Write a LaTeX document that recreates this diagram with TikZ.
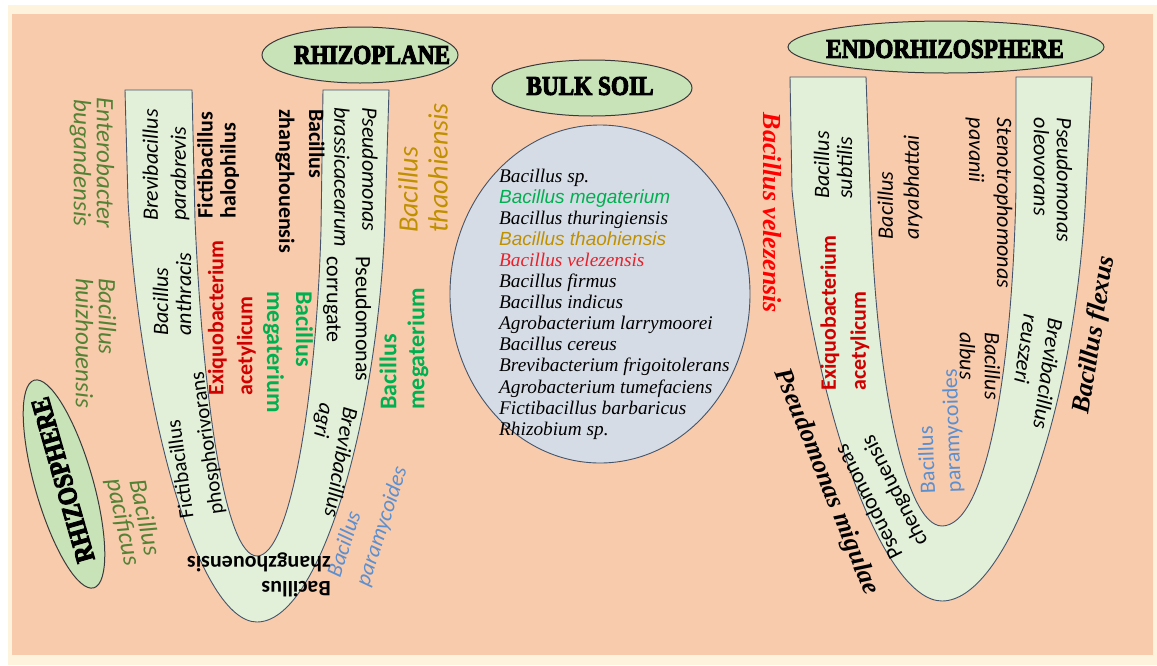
\documentclass[tikz,border=0pt]{standalone}
\usepackage{fontspec}
\setmainfont{Liberation Serif}
\newfontfamily\carl{Carlito}
\newfontfamily\titlefont{Liberation Serif}
\newfontfamily\lsans{Liberation Sans}
\newcommand\fsz[2]{\fontsize{#1}{#2}\selectfont}
\newcommand\CI[2]{\carl\itshape\fsz{#1}{#2}}
\newcommand\CR[2]{\carl\fsz{#1}{#2}}
\newcommand\CB[2]{\carl\bfseries\fsz{#1}{#2}}
\newcommand\SBI[2]{\rmfamily\bfseries\itshape\fsz{#1}{#2}}
\newcommand\heavytxt[1]{\special{pdf:literal direct 2 Tr 1.1 w}#1\special{pdf:literal direct 0 Tr 1 w}}
\definecolor{peach}{HTML}{F8CBAD}
\definecolor{bandcol}{HTML}{FEF3DC}
\definecolor{ugreen}{HTML}{E2F0D9}
\definecolor{ustroke}{HTML}{44546A}
\definecolor{ovalgreen}{HTML}{C9E3B8}
\definecolor{ovalstroke}{HTML}{3A3A3A}
\definecolor{bulkfill}{HTML}{D6DCE5}
\definecolor{olive}{HTML}{548235}
\definecolor{exred}{HTML}{D00000}
\definecolor{vred}{HTML}{FF0000}
\definecolor{lred}{HTML}{E8202A}
\definecolor{bgreen}{HTML}{00B050}
\definecolor{gold}{HTML}{BF9000}
\definecolor{bblue}{HTML}{5B8FD0}
\begin{document}
\begin{tikzpicture}[x=1pt,y=-1pt,
  ushape/.style={fill=ugreen,draw=ustroke,line width=0.9pt},
  oval/.style={fill=ovalgreen,draw=ovalstroke,line width=1pt},
  bulk/.style={fill=bulkfill,draw=ustroke,line width=0.9pt},
  lab/.style={inner sep=0pt,align=left},
  title/.style={inner sep=0pt,text=black,font=\titlefont\bfseries\fsz{27}{27}},
  listtxt/.style={inner sep=0pt,anchor=base west,font=\rmfamily\itshape\fsz{19.3}{21}},
  listsans/.style={inner sep=0pt,anchor=base west,font=\lsans\itshape\fsz{19}{21}}]
\useasboundingbox (0,0) rectangle (1157,665);
\fill[white] (0,0) rectangle (1157,665);
\fill[bandcol] (8,5) rectangle (1157,665);
\fill[peach] (12,14) rectangle (1153,655);

% left U
\draw[ushape] (125,90) -- (128,200) .. controls (140,420) and (200,622) .. (257,622)
  .. controls (320,622) and (378,420) .. (385,220) -- (389,90) -- (323,90) -- (321,230)
  .. controls (316,400) and (290,556) .. (257,556)
  .. controls (225,556) and (203,400) .. (195,220) -- (192,90) -- cycle;
% right U
\draw[ushape] (790,77) -- (792,190) .. controls (815,420) and (885,601) .. (942,601)
  .. controls (1005,601) and (1075,420) .. (1086,190) -- (1092,77) -- (1016,77) -- (1016,190)
  .. controls (1012,380) and (985,526) .. (942,526)
  .. controls (905,526) and (875,380) .. (870,190) -- (866,77) -- cycle;

% bulk soil ellipse
\draw[bulk] (600,294) ellipse [x radius=150pt, y radius=169pt];

% title ovals
\draw[oval] (360,55) ellipse [x radius=98pt, y radius=28pt];
\draw[oval] (592,88) ellipse [x radius=100pt, y radius=28pt];
\draw[oval] (946,47) ellipse [x radius=158pt, y radius=26pt];
\draw[oval, rotate around={106:(64,484)}] (64,484) ellipse [x radius=108pt, y radius=29pt];
\node[title] (trp) at (372,55) {\scalebox{0.86}[1]{\heavytxt{RHIZOPLANE}}};
\node[title] (tbs) at (590,86) {\scalebox{0.86}[1]{\heavytxt{BULK SOIL}}};
\node[title] (ten) at (945,49) {\scalebox{0.86}[1]{\heavytxt{ENDORHIZOSPHERE}}};
\node[title,rotate=106] (trs) at (63,480) {\scalebox{0.86}[1]{\heavytxt{RHIZOSPHERE}}};

% bulk soil list
\node[listtxt] (l1) at (499,182) {Bacillus sp.};
\node[listsans,text=bgreen] (l2) at (499,203.1) {Bacillus megaterium};
\node[listtxt] (l3) at (499,224.2) {Bacillus thuringiensis};
\node[listsans,text=gold] (l4) at (499,245.3) {Bacillus thaohiensis};
\node[listtxt,text=lred] (l5) at (499,266.4) {Bacillus velezensis};
\node[listtxt] (l6) at (499,287.5) {Bacillus firmus};
\node[listtxt] (l7) at (499,308.6) {Bacillus indicus};
\node[listtxt] (l8) at (499,329.7) {Agrobacterium larrymoorei};
\node[listtxt] (l9) at (499,350.8) {Bacillus cereus};
\node[listtxt] (l10) at (499,371.9) {Brevibacterium frigoitolerans};
\node[listtxt] (l11) at (499,393) {Agrobacterium tumefaciens};
\node[listtxt] (l12) at (499,414.1) {Fictibacillus barbaricus};
\node[listtxt] (l13) at (499,435.2) {Rhizobium sp.};

% left region labels
\node[lab,rotate=-90,text=olive,font=\CI{25}{23},align=center] (enb) at (92,163) {Enterobacter\\bugandensis};
\node[lab,rotate=-90,text=olive,font=\CI{25}{23}] (bhz) at (96,343) {Bacillus\\huizhouensis};
\node[lab,rotate=-78,text=olive,font=\CI{25}{22},align=center] (bpc) at (133,520) {Bacillus\\pacificus};
\node[lab,rotate=90,font=\CI{22}{28}] (bpb) at (166,165) {Brevibacillus\\parabrevis};
\node[lab,rotate=90,font=\CI{22}{23}] (ban) at (172,294) {Bacillus\\anthracis};
\node[lab,rotate=98,font=\CR{21}{30}] (fph) at (193,445) {Fictibacillus\\phosphorivorans};
\node[lab,rotate=90,font=\CB{22}{23}] (fha) at (218,165) {Fictibacillus\\halophilus};
\node[lab,rotate=90,text=exred,font=\CB{22}{29}] (exl) at (232,318) {Exiquobacterium\\acetylicum};
\node[lab,rotate=-90,font=\CB{22}{30}] (bzt) at (300,181) {Bacillus\\zhangzhouensis};
\node[lab,rotate=-90,text=bgreen,font=\CB{24}{29}] (bml) at (288,352) {Bacillus\\megaterium};
\node[lab,rotate=-90,font=\CI{22}{28}] (pbr) at (356,177) {Pseudomonas\\brassicacearum};
\node[lab,rotate=-90,font=\CR{22}{29}] (pco) at (347,319) {Pseudomonas\\corrugate};
\node[lab,rotate=-100,font=\CI{22}{24}] (bag) at (328,460) {Brevibacillus\\agri};
\node[lab,rotate=90,text=gold,font=\CI{28}{30}] (bth) at (423,168) {Bacillus\\thaohiensis};
\node[lab,rotate=90,text=bgreen,font=\CB{24}{28}] (bmr) at (404,349) {Bacillus\\megaterium};
\node[lab,rotate=72,text=bblue,font=\CI{22}{30}] (bpl) at (368,522) {Bacillus\\paramycoides};
\node[lab,rotate=180,font=\CB{22}{25}] (bzb) at (259,575) {Bacillus\\zhangzhouensis};

% right region labels
\node[lab,rotate=-90,text=vred,font=\SBI{26}{28}] (bve) at (772,213) {Bacillus velezensis};
\node[lab,rotate=90,font=\CI{22}{23}] (bsu) at (833,165) {Bacillus\\subtilis};
\node[lab,rotate=90,text=exred,font=\CB{22}{30}] (exr) at (845,313) {Exiquobacterium\\acetylicum};
\node[lab,rotate=90,font=\CI{22}{26}] (bar) at (900,187) {Bacillus\\aryabhattai};
\node[lab,rotate=-90,font=\CI{22}{28}] (ste) at (989,203) {Stenotrophomonas\\pavanii};
\node[lab,rotate=-90,font=\CI{22}{23}] (pol) at (1053,180) {Pseudomonas\\oleovorans};
\node[lab,rotate=-90,font=\CI{22}{25}] (bal) at (980,366) {Bacillus\\albus};
\node[lab,rotate=-98,font=\CI{22}{25}] (bre) at (1036,372) {Brevibacillus\\reuszeri};
\node[lab,rotate=81,font=\SBI{26}{28}] (bfl) at (1095,335) {Bacillus flexus};
\node[lab,rotate=-68,font=\SBI{26}{28}] (pmi) at (826,482) {Pseudomonas migulae};
\node[lab,rotate=117,font=\CR{22}{28}] (pch) at (882,495) {Pseudomonas\\chengduensis};
\node[lab,rotate=92,text=bblue,font=\CR{22}{26}] (bpr) at (940,431) {Bacillus\\paramycoides};
\end{tikzpicture}
\end{document}
